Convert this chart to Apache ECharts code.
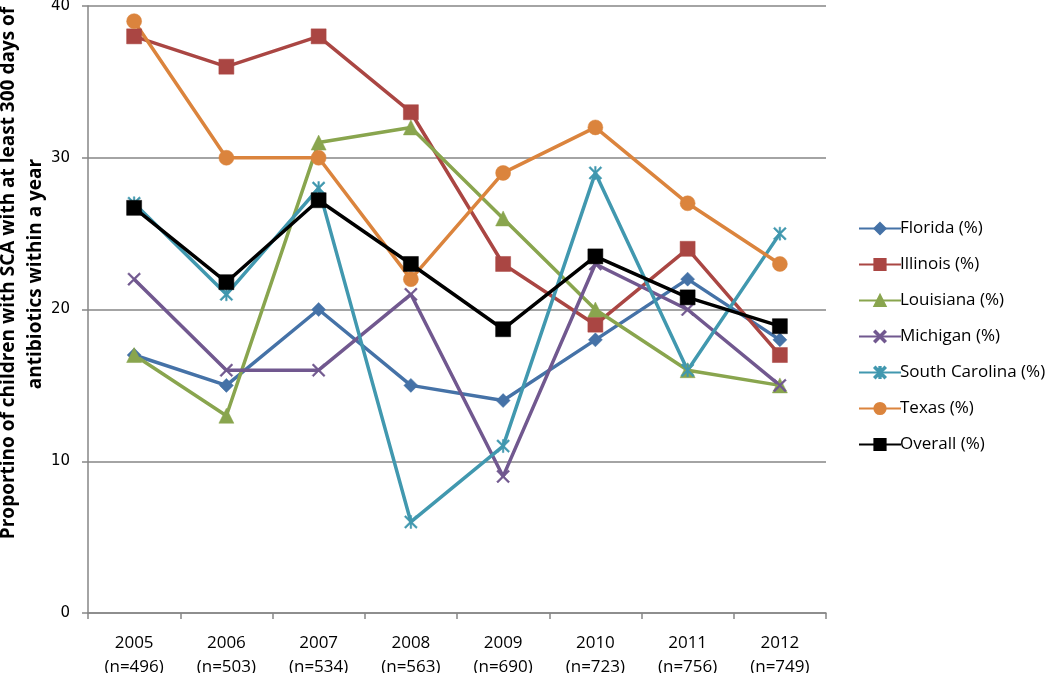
<!DOCTYPE html>
<html><head><meta charset="utf-8">
<script src="https://cdn.jsdelivr.net/npm/echarts@6/dist/echarts.min.js"></script>
<style>html,body{margin:0;padding:0;background:#fff}#c{width:1050px;height:673px}</style>
</head><body><div id="c"></div>
<script>
const years = ['2005','2006','2007','2008','2009','2010','2011','2012'];
const nCounts = ['496','503','534','563','690','723','756','749'];
const yTicks = [0,10,20,30,40];
const yTitleLines = ['Proportino of children with SCA with at least 300 days of','antibiotics within a year'];
const florida = [17,15,20,15,14,18,22,18];
const illinois = [38,36,38,33,23,19,24,17];
const louisiana = [17,13,31,32,26,20,16,15];
const michigan = [22,16,16,21,9,23,20,15];
const southCarolina = [27,21,28,6,11,29,16,25];
const texas = [39,30,30,22,29,32,27,23];
const overall = [26.7,21.8,27.2,23,18.7,23.5,20.8,18.9];

const categories = years.map((y,i)=> y + '\n(n=' + nCounts[i] + ')');
const X_PATH = 'path://M0,1L1,0L5,4L9,0L10,1L6,5L10,9L9,10L5,6L1,10L0,9L4,5Z';
const STAR_PATH = 'path://M0,1L1,0L5,4L9,0L10,1L6,5L10,9L9,10L5,6L1,10L0,9L4,5Z M4.4,0L5.6,0L5.6,10L4.4,10Z';

function s(name, data, color, symbol, size){
  return {name, type:'line', data, symbol, symbolSize:size, showAllSymbol:true,
    lineStyle:{color, width:3.5}, itemStyle:{color, borderColor:color, borderWidth:0.5},
    emphasis:{disabled:true}, animation:false};
}
const series = [
  s('Florida (%)', florida, '#4572A7', 'diamond', 14),
  s('Illinois (%)', illinois, '#AA4643', 'rect', 15),
  s('Louisiana (%)', louisiana, '#89A54E', 'triangle', 15),
  s('Michigan (%)', michigan, '#71588F', X_PATH, 13),
  s('South Carolina (%)', southCarolina, '#4198AF', STAR_PATH, 13),
  s('Texas (%)', texas, '#DB843D', 'circle', 15),
  s('Overall (%)', overall, '#000000', 'rect', 15)
];

const titleFont = 'bold 19px "Open Sans"';
const chart = echarts.init(document.getElementById('c'), null, {renderer:'canvas'});
chart.setOption({
  backgroundColor:'#fff',
  animation:false,
  grid:{left:88, right:224, top:6, bottom:60, containLabel:false, outerBoundsMode:'none'},
  graphic:[
    {type:'text', x:9, y:273, rotation:Math.PI/2, silent:true,
      style:{text:yTitleLines[0], font:titleFont, fill:'#000', align:'center', verticalAlign:'middle'}},
    {type:'text', x:36, y:274, rotation:Math.PI/2, silent:true,
      style:{text:yTitleLines[1], font:titleFont, fill:'#000', align:'center', verticalAlign:'middle'}}
  ],
  legend:{orient:'vertical', left:853, top:215, itemGap:19, itemWidth:42, itemHeight:14,
    textStyle:{fontFamily:'Open Sans', fontSize:17, color:'#000', padding:[0,0,0,-6]},
    data:series.map(x=>x.name)},
  xAxis:{type:'category', data:categories, boundaryGap:true,
    axisLine:{lineStyle:{color:'#868686', width:1.5}},
    axisTick:{show:true, length:6, lineStyle:{color:'#868686', width:1.5}},
    axisLabel:{fontFamily:'Open Sans', fontSize:17, color:'#000', margin:18, lineHeight:24, interval:0}},
  yAxis:{type:'value', min:yTicks[0], max:yTicks[yTicks.length-1], interval:10,
    axisLine:{show:true, lineStyle:{color:'#868686', width:1.5}},
    axisTick:{show:true, length:6, lineStyle:{color:'#868686', width:1.5}},
    axisLabel:{fontFamily:'DejaVu Sans', fontSize:15, color:'#000', margin:18},
    splitLine:{show:true, lineStyle:{color:'#868686', width:1.5}}},
  series
});
</script></body></html>
